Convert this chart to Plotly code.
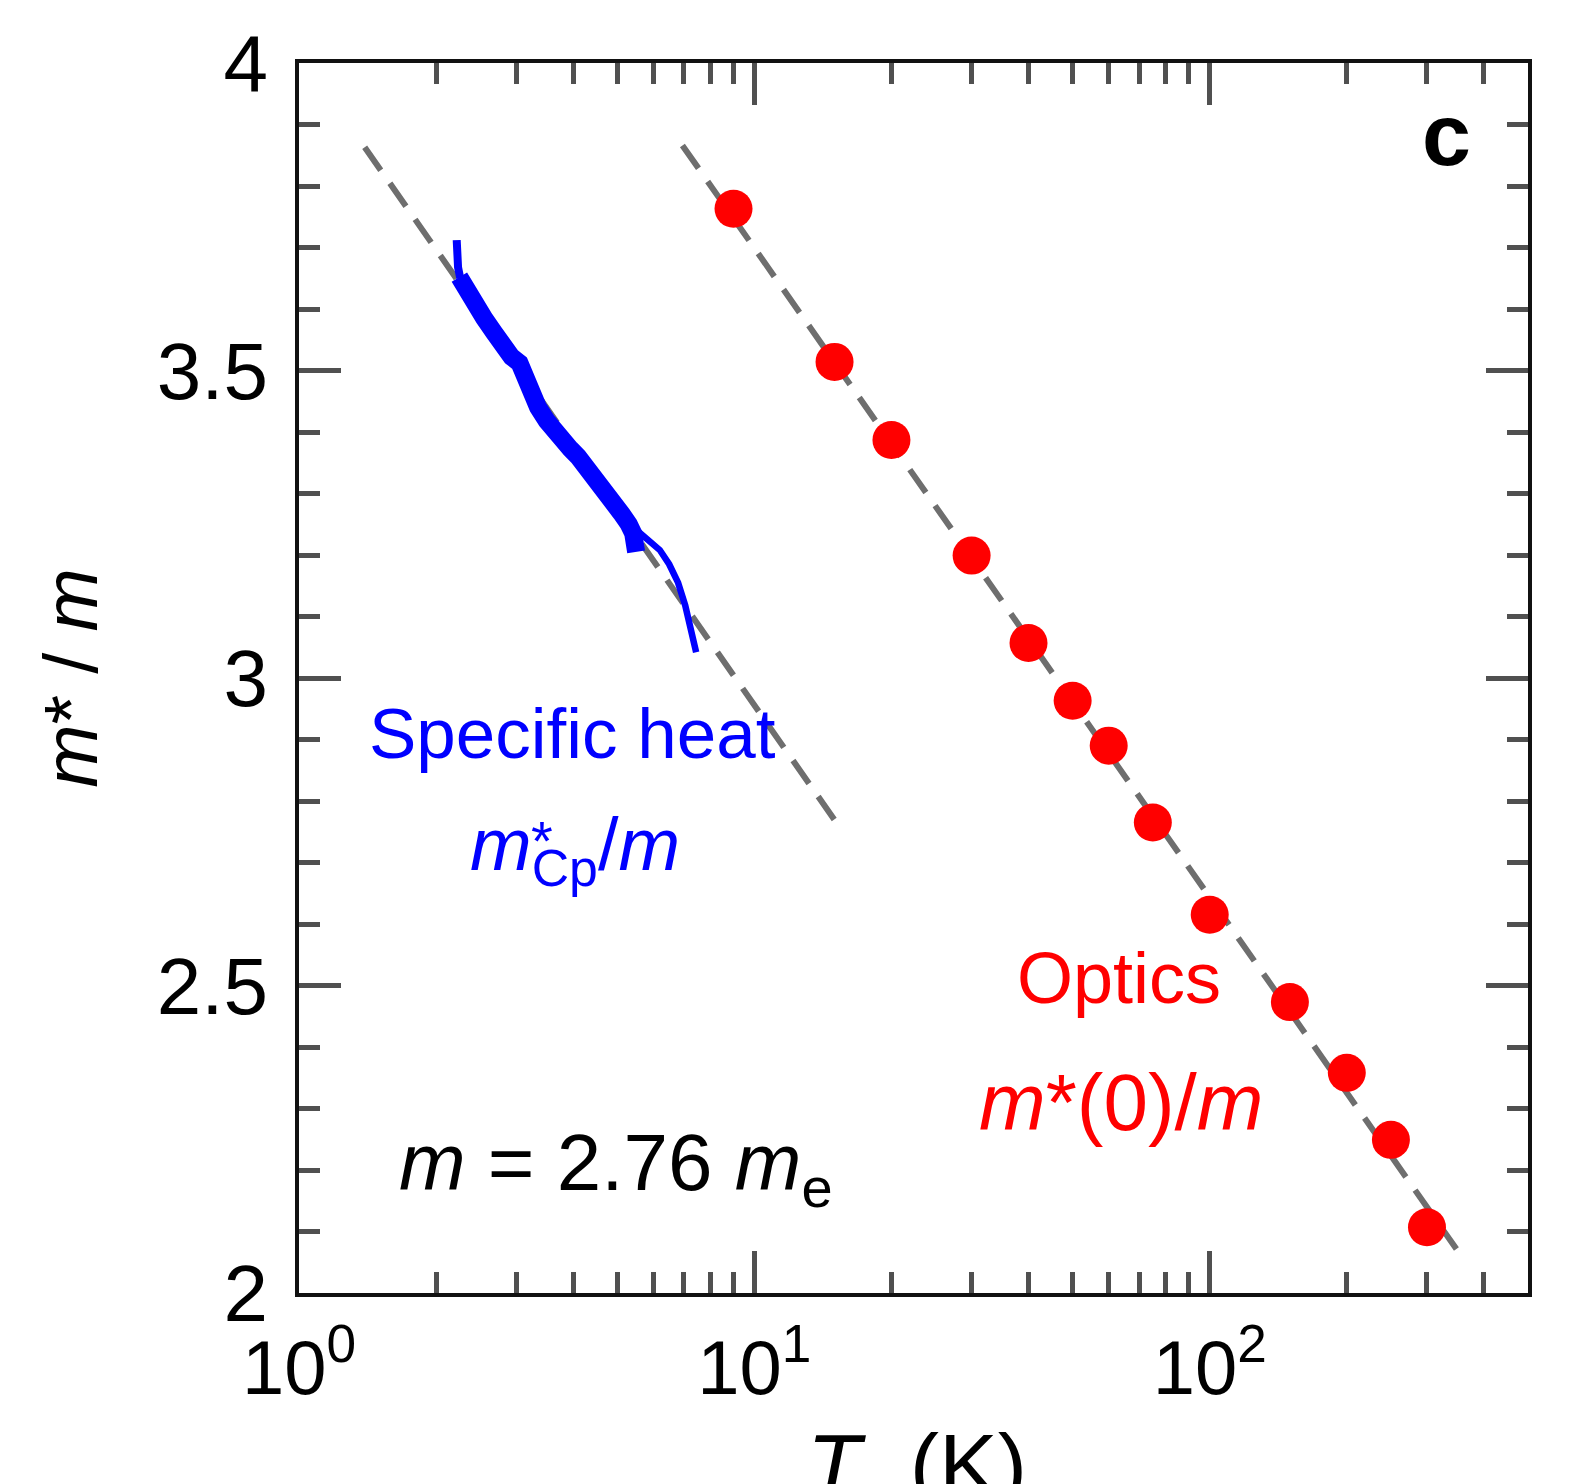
import numpy as np
import plotly.graph_objects as go

# ---- data ----
optics_T = [9, 15, 20, 30, 40, 50, 60, 75, 100, 150, 200, 250, 300]
optics_m = [3.763, 3.514, 3.387, 3.199, 3.057, 2.963, 2.890, 2.765, 2.615, 2.473, 2.358, 2.249, 2.107]

cp_stalk_T = [2.22, 2.225, 2.235, 2.26]
cp_stalk_m = [3.712, 3.690, 3.668, 3.650]

cp_T = [2.25, 2.32, 2.42, 2.55, 2.68, 2.80, 2.93, 3.05, 3.12, 3.22, 3.35,
        3.50, 3.65, 3.80, 3.95, 4.10, 4.30, 4.50, 4.70, 4.90, 5.10, 5.30, 5.42, 5.50]
cp_m = [3.652, 3.632, 3.612, 3.585, 3.562, 3.540, 3.522, 3.512, 3.490, 3.462, 3.440,
        3.418, 3.398, 3.385, 3.372, 3.360, 3.342, 3.322, 3.300, 3.282, 3.268, 3.250, 3.235, 3.205]

cp_tail_T = [5.42, 5.65, 5.95, 6.20, 6.50, 6.80, 7.05, 7.25, 7.45]
cp_tail_m = [3.245, 3.234, 3.222, 3.208, 3.185, 3.155, 3.118, 3.080, 3.042]

fit_cp_T = [1.394, 15.2]
fit_cp_m = [3.863, 2.763]
fit_opt_T = [6.95, 348.5]
fit_opt_m = [3.866, 2.071]

x_tickvals = [1, 10, 100]
x_ticktext = ["10<sup>0</sup>", "10<sup>1</sup>", "10<sup>2</sup>"]
x_minor = [2, 3, 4, 5, 6, 7, 8, 9, 20, 30, 40, 50, 60, 70, 80, 90, 200, 300, 400]
y_tickvals = [2, 2.5, 3, 3.5, 4]
y_ticktext = ["2", "2.5", "3", "3.5", "4"]

FONT = "Liberation Sans"
DASH_COLOR = "#6e6e6e"
TICK_COLOR = "#505050"

fig = go.Figure()
for fx, fy in [(fit_cp_T, fit_cp_m), (fit_opt_T, fit_opt_m)]:
    fig.add_trace(go.Scatter(x=fx, y=fy, mode="lines",
                             line=dict(color=DASH_COLOR, width=6, dash="28px,16px"), showlegend=False))
fig.add_trace(go.Scatter(x=cp_stalk_T, y=cp_stalk_m, mode="lines",
                         line=dict(color="#0000ff", width=8), showlegend=False))
fig.add_trace(go.Scatter(x=cp_T, y=cp_m, mode="lines",
                         line=dict(color="#0000ff", width=18), showlegend=False))
fig.add_trace(go.Scatter(x=cp_tail_T, y=cp_tail_m, mode="lines",
                         line=dict(color="#0000ff", width=6.5), showlegend=False))
fig.add_trace(go.Scatter(x=optics_T, y=optics_m, mode="markers",
                         marker=dict(color="#ff0000", size=38), showlegend=False))

axis_common = dict(
    showgrid=False, zeroline=False, showline=True, linecolor="#111111", linewidth=4,
    mirror="allticks", ticks="inside", tickcolor=TICK_COLOR, tickwidth=5, ticklen=42,
)

fig.update_xaxes(type="log", range=[0, np.log10(500)], tickvals=x_tickvals, ticktext=x_ticktext,
                 tickfont=dict(family=FONT, size=76, color="black"), ticklabelstandoff=6,
                 minor=dict(tickvals=x_minor, ticks="inside", ticklen=21, tickwidth=5, tickcolor=TICK_COLOR),
                 **axis_common)
fig.update_yaxes(range=[2, 4], tickvals=y_tickvals, ticktext=y_ticktext,
                 tickfont=dict(family=FONT, size=80, color="black"), ticklabelstandoff=11,
                 minor=dict(dtick=0.1, ticks="inside", ticklen=21, tickwidth=5, tickcolor=TICK_COLOR),
                 title=dict(text="<i>m</i>* / <i>m</i>", font=dict(family=FONT, size=76, color="black"), standoff=35),
                 **axis_common)

def ann(text, x, y, color, size, yanchor="middle"):
    fig.add_annotation(text=text, x=x, y=y, xref="paper", yref="paper", showarrow=False,
                       xanchor="center", yanchor=yanchor,
                       font=dict(family=FONT, size=size, color=color))

# x-axis title (partly cut by the bottom edge, as in the reference)
ann("<i>T</i>&nbsp; (K)", 0.503, -0.0976, "black", 88, yanchor="top")

ann("<b>c</b>", 0.934, 0.942, "black", 88)
ann("Specific heat", 0.2228, 0.4545, "#0000ff", 71)
ann("<i>m</i><sub>Cp</sub>/<i>m</i>", 0.2244, 0.3602, "#0000ff", 74)
ann("*", 0.1975, 0.368, "#0000ff", 56)
ann("Optics", 0.6675, 0.2561, "#ff0000", 72)
ann("<i>m</i>*(0)/<i>m</i>", 0.6691, 0.1545, "#ff0000", 80)
ann("<i>m</i> = 2.76 <i>m</i><sub>e</sub>", 0.2577, 0.1009, "black", 80)

fig.update_layout(
    width=1589, height=1484,
    margin=dict(l=299, r=61, t=63, b=191, autoexpand=False),
    plot_bgcolor="white", paper_bgcolor="white",
    showlegend=False,
)

fig.write_html("out.html", config={"displayModeBar": False},
               post_script="document.body.style.margin='0px';")
